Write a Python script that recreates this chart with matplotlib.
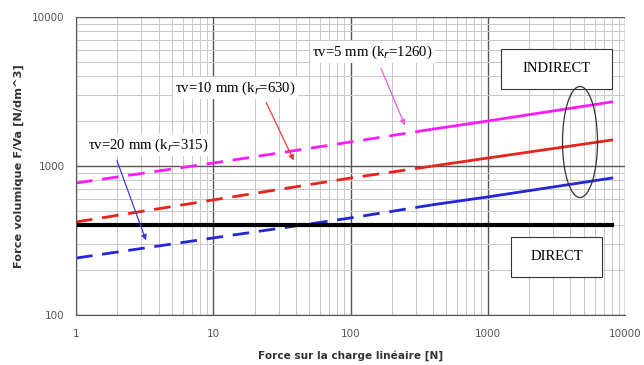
import matplotlib.pyplot as plt
from matplotlib.patches import Ellipse, Rectangle
from matplotlib.ticker import FixedLocator, FixedFormatter, LogLocator, NullFormatter

# values (log-log)
force = [1, 10, 100, 400, 1000, 8000]
tv5 = [769, 1047, 1449, 1770, 2004, 2692]
tv10 = [421, 592, 830, 1000, 1131, 1494]
tv20 = [241, 329, 448, 550, 620, 830]
direct_x = [1, 8000]
direct_y = [400, 400]

x_ticks = [1, 10, 100, 1000, 10000]
x_labels = ['1', '10', '100', '1000', '10000']
y_ticks = [100, 1000, 10000]
y_labels = ['100', '1000', '10000']

W, H = 644, 365
fig = plt.figure(figsize=(W / 100, H / 100), dpi=100)
ax = fig.add_axes([76 / W, 1 - 315 / H, (625 - 76) / W, (315 - 17) / H])


def px(x, y):
    # pixel position -> figure fraction
    return x / W, 1 - y / H


split = 3  # dashed up to force[split], solid after
series = [(tv5, '#ff1aff'), (tv10, '#e8231c'), (tv20, '#2424d8')]
for vals, col in series:
    ax.plot(force[:split + 1], vals[:split + 1], color=col, lw=2, dashes=(6, 3.5))
    ax.plot(force[split:], vals[split:], color=col, lw=2)
ax.plot(direct_x, direct_y, color='black', lw=3)

ax.set_xscale('log')
ax.set_yscale('log')
ax.set_xlim(1, 10000)
ax.set_ylim(100, 10000)
ax.xaxis.set_major_locator(FixedLocator(x_ticks))
ax.xaxis.set_major_formatter(FixedFormatter(x_labels))
ax.yaxis.set_major_locator(FixedLocator(y_ticks))
ax.yaxis.set_major_formatter(FixedFormatter(y_labels))
ax.xaxis.set_minor_locator(LogLocator(base=10, subs=range(2, 10)))
ax.yaxis.set_minor_locator(LogLocator(base=10, subs=range(2, 10)))
ax.xaxis.set_minor_formatter(NullFormatter())
ax.yaxis.set_minor_formatter(NullFormatter())
ax.grid(True, which='major', color='#555555', lw=1.0)
ax.grid(True, which='minor', color='#c8c8c8', lw=0.7)
ax.set_axisbelow(True)
ax.tick_params(which='both', length=0, labelsize=7.5, labelcolor='#555555', pad=8)
ax.tick_params(axis='x', pad=10)
for s in ['top', 'right']:
    ax.spines[s].set_visible(False)
for s in ['left', 'bottom']:
    ax.spines[s].set_color('#555555')

ax.set_xlabel('Force sur la charge linéaire [N]', fontsize=7.6, fontweight='bold',
              color='#333333', labelpad=8)
ax.set_ylabel('Force volumique F/Va [N/dm^3]', fontsize=8.2, fontweight='bold',
              color='#333333', labelpad=6)

serif = 'Liberation Serif'
labels = [
    ('τv=5 mm (k$_r$=1260)', (312, 52), (380, 66), (406, 128), '#e060e0'),
    ('τv=10 mm (k$_r$=630)', (175, 88), (265, 100), (295, 163), '#e04040'),
    ('τv=20 mm (k$_r$=315)', (88, 145), (116, 158), (147, 243), '#3a3ae0'),
]
for txt, tpos, a0, a1, col in labels:
    fig.text(*px(*tpos), txt, fontsize=10.6, family=serif, va='center', ha='left',
             bbox=dict(boxstyle='square,pad=0.15', fc='white', ec='none'))
    ax.annotate('', xy=px(*a1), xytext=px(*a0), xycoords='figure fraction',
                textcoords='figure fraction',
                arrowprops=dict(arrowstyle='-|>', color=col, lw=0.9,
                                mutation_scale=8))

# boxes INDIRECT / DIRECT
for name, (x0, y0, x1, y1) in [('INDIRECT', (501, 49, 612, 89)),
                               ('DIRECT', (511, 237, 602, 277))]:
    bx, by = px(x0, y1)
    fig.patches.append(Rectangle((bx, by), (x1 - x0) / W, (y1 - y0) / H,
                                 transform=fig.transFigure, fc='white',
                                 ec='#333333', lw=0.8))
    fig.text(*px((x0 + x1) / 2, (y0 + y1) / 2), name, fontsize=10.5,
             family=serif, ha='center', va='center')

cx, cy = px(580, 142)
ell = Ellipse((cx, cy), 35 / W, 111 / H, transform=fig.transFigure,
              fill=False, ec='#333333', lw=0.9)
fig.patches.append(ell)

fig.savefig('out.png', dpi=100, facecolor='white')
